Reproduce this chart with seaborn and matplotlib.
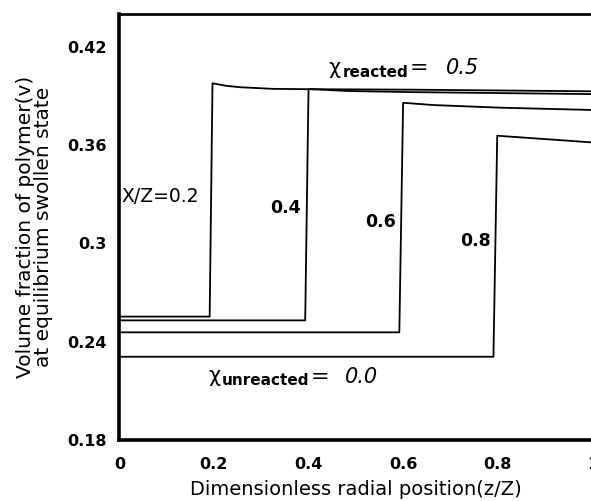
import matplotlib
matplotlib.use("Agg")
import matplotlib.pyplot as plt
import seaborn as sns
import pandas as pd

# ---- data ----
curve_labels = ["0.2", "0.4", "0.6", "0.8"]
x_02 = [0.0, 0.191, 0.197, 0.225, 0.255, 0.325, 0.40, 0.62, 1.0]
v_02 = [0.2553, 0.2553, 0.3977, 0.3962, 0.3953, 0.3943, 0.3941, 0.3938, 0.3928]
x_04 = [0.0, 0.393, 0.400, 0.483, 0.62, 1.0]
v_04 = [0.2530, 0.2530, 0.3942, 0.3930, 0.3923, 0.3911]
x_06 = [0.0, 0.592, 0.600, 0.665, 0.807, 1.0]
v_06 = [0.2457, 0.2457, 0.3858, 0.3844, 0.3828, 0.3814]
x_08 = [0.0, 0.791, 0.799, 1.0]
v_08 = [0.2308, 0.2308, 0.3657, 0.3616]

x_ticks = [0, 0.2, 0.4, 0.6, 0.8, 1.0]
x_ticklabels = ["0", "0.2", "0.4", "0.6", "0.8", "1"]
y_ticks = [0.18, 0.24, 0.30, 0.36, 0.42]
y_ticklabels = ["0.18", "0.24", "0.3", "0.36", "0.42"]

frames = []
for lab, xs, vs in zip(curve_labels, [x_02, x_04, x_06, x_08], [v_02, v_04, v_06, v_08]):
    frames.append(pd.DataFrame({"z": xs, "v": vs, "curve": lab, "order": range(len(xs))}))
df = pd.concat(frames, ignore_index=True)

sns.set_theme(style="white")
plt.rcParams["font.family"] = ["DejaVu Sans"]

fig = plt.figure(figsize=(5.91, 5.01), dpi=100)
ax = fig.add_axes([0.2019, 0.1218, 0.8003, 0.8503])

sns.lineplot(data=df, x="z", y="v", units="curve", estimator=None, sort=False,
             color="black", linewidth=1.3, ax=ax, legend=False)

ax.set_xlim(0, 1.0)
ax.set_ylim(0.18, 0.44)
ax.set_xticks(x_ticks)
ax.set_xticklabels(x_ticklabels)
ax.set_yticks(y_ticks)
ax.set_yticklabels(y_ticklabels)
ax.tick_params(axis="both", direction="in", length=3, width=2, colors="black",
               labelsize=11.5)
ax.tick_params(axis="x", pad=12)
ax.tick_params(axis="y", pad=9)
for lbl in ax.get_xticklabels() + ax.get_yticklabels():
    lbl.set_fontweight("bold")

for side, lw in [("left", 2.6), ("bottom", 2.6), ("top", 2.0), ("right", 2.0)]:
    ax.spines[side].set_visible(True)
    ax.spines[side].set_color("black")
    ax.spines[side].set_linewidth(lw)

ax.set_xlabel("Dimensionless radial position(z/Z)", fontsize=14, color="black", labelpad=6)
ax.set_ylabel("Volume fraction of polymer(v)\nat equilibrium swollen state", fontsize=14.5,
              color="black", labelpad=10, linespacing=0.95)

# curve annotations
ax.text(0.005, 0.3284, "X/Z=0.2", fontsize=13.5, ha="left", va="center", color="black")
ax.text(0.352, 0.3215, "0.4", fontsize=12.5, fontweight="bold", ha="center", va="center", color="black")
ax.text(0.552, 0.3132, "0.6", fontsize=12.5, fontweight="bold", ha="center", va="center", color="black")
ax.text(0.754, 0.3016, "0.8", fontsize=12.5, fontweight="bold", ha="center", va="center", color="black")

def chi_label(x0, y0, sub, val, gap):
    t1 = ax.text(x0, y0, "χ", fontsize=15, ha="left", va="baseline", color="black")
    t2 = ax.annotate(sub, xy=(1, 0), xycoords=t1, xytext=(1, -1.5), textcoords="offset points",
                     fontsize=11, fontweight="bold", ha="left", va="bottom", color="black")
    t3 = ax.annotate("=", xy=(1, 0), xycoords=t2, xytext=(1, 1), textcoords="offset points",
                     fontsize=16, ha="left", va="bottom", color="black")
    ax.annotate(val, xy=(1, 0), xycoords=t3, xytext=(gap, 0), textcoords="offset points",
                fontsize=15, fontstyle="italic", ha="left", va="bottom", color="black")

chi_label(0.443, 0.4035, "reacted", "0.5", 13)
chi_label(0.188, 0.2155, "unreacted", "0.0", 11)

fig.savefig("out.png", dpi=100)
